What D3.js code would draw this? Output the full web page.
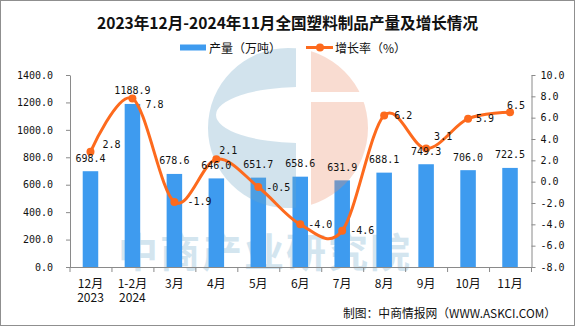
<!DOCTYPE html>
<html>
<head>
<meta charset="utf-8">
<script src="https://cdn.jsdelivr.net/npm/d3@7"></script>
<style>
  html, body { margin: 0; padding: 0; background: #fff; }
  svg { display: block; }
</style>
</head>
<body>
<svg id="chart" width="575" height="326"></svg>
<script>
// Monthly output of plastic products (10k tonnes) and year-on-year growth (%)
const categories = ["12月", "1-2月", "3月", "4月", "5月", "6月", "7月", "8月", "9月", "10月", "11月"];
const yearLabels = ["2023", "2024", "", "", "", "", "", "", "", "", ""];
const output = [698.4, 1188.9, 678.6, 646.0, 651.7, 658.6, 631.9, 688.1, 749.3, 706.0, 722.5];
const growth = [2.8, 7.8, -1.9, 2.1, -0.5, -4.0, -4.6, 6.2, 3.1, 5.9, 6.5];
const outputTicks = [0, 200, 400, 600, 800, 1000, 1200, 1400];
const growthTicks = [-8, -6, -4, -2, 0, 2, 4, 6, 8, 10];

const titleText = "2023年12月-2024年11月全国塑料制品产量及增长情况";
const seriesNames = ["产量（万吨）", "增长率（%）"];
const sourceText = "制图：中商情报网（WWW.ASKCI.COM）";
const watermarkText = "中商产业研究院";

// Nudges for growth labels that sit away from the default right-of-point spot
const growthLabelNudge = {
  "12月": [12, -7], "1-2月": [13, 6], "3月": [13, 0], "4月": [3, -9],
  "8月": [10, 0], "9月": [8, -12], "11月": [-3, -7]
};

const W = 575, H = 326;
const plot = { left: 70, right: 531.5, top: 75, bottom: 267 };
const NUM_FONT = "'DejaVu Sans Mono', 'Liberation Mono', monospace";
const CJK_FONT = "'Noto Sans CJK SC', 'Noto Sans', sans-serif";
const BAR_COLOR = "#3e9bef";
const LINE_COLOR = "#fd6a1d";
const AXIS_COLOR = "#8a8a8a";

const svg = d3.select("#chart");

// frame
svg.append("rect")
  .attr("x", 0.5).attr("y", 0.5).attr("width", W - 1).attr("height", H - 1)
  .attr("fill", "#fff").attr("stroke", "#8f8f8f");

const x = d3.scaleBand().domain(categories).range([plot.left - 0.5, plot.right - 0.5]).padding(0);
const yL = d3.scaleLinear().domain([0, 1400]).range([plot.bottom, plot.top]);
const yR = d3.scaleLinear().domain([-8, 10]).range([plot.bottom, plot.top]);
const cx = d => x(d) + x.bandwidth() / 2;

// background brand text
svg.append("text")
  .attr("x", 118).attr("y", 267)
  .attr("font-family", CJK_FONT).attr("font-weight", 700)
  .attr("font-size", 40).attr("letter-spacing", 2)
  .attr("fill", "#d3e5ef")
  .text(watermarkText);

// bars
const barW = x.bandwidth() * 0.37;
svg.append("g").selectAll("rect")
  .data(categories)
  .join("rect")
  .attr("x", (d) => cx(d) - barW / 2)
  .attr("y", (d, i) => yL(output[i]))
  .attr("width", barW)
  .attr("height", (d, i) => yL(0) - yL(output[i]))
  .attr("fill", BAR_COLOR);

// translucent logo mark
const defs = svg.append("defs");
defs.append("clipPath").attr("id", "clipLeft")
  .append("rect").attr("x", 0).attr("y", 0).attr("width", 296).attr("height", H);
defs.append("clipPath").attr("id", "clipRight")
  .append("path").attr("d", `M311,0H${W}V92H311Z M311,102H${W}V${H}H311Z`);
const logo = svg.append("g").attr("opacity", 0.3);
const lcx = 288, lcy = 128, lr = 80;
const circlePath = `M${lcx - lr},${lcy}a${lr},${lr} 0 1,0 ${2 * lr},0a${lr},${lr} 0 1,0 ${-2 * lr},0Z`;
const irx = 84, iry = 28, icx = 300, icy = 115;
const innerPath = `M${icx - irx},${icy}a${irx},${iry} 0 1,0 ${2 * irx},0a${irx},${iry} 0 1,0 ${-2 * irx},0Z`;
logo.append("path")
  .attr("d", circlePath + " " + innerPath)
  .attr("fill-rule", "evenodd")
  .attr("clip-path", "url(#clipLeft)")
  .attr("fill", "#6ca5c6");
logo.append("path")
  .attr("d", circlePath)
  .attr("clip-path", "url(#clipRight)")
  .attr("fill", "#ee8e69");

// axes
function styleAxis(g) {
  g.selectAll("path, line").attr("stroke", AXIS_COLOR);
  g.selectAll("text").attr("font-family", NUM_FONT).attr("font-size", 10).attr("fill", "#111");
}
svg.append("g")
  .attr("transform", `translate(${plot.left},0)`)
  .call(d3.axisLeft(yL).tickValues(outputTicks).tickFormat(d3.format(".1f")).tickSize(4).tickSizeOuter(0).tickPadding(13))
  .call(styleAxis);
svg.append("g")
  .attr("transform", `translate(${plot.right},0)`)
  .call(d3.axisRight(yR).tickValues(growthTicks).tickFormat(d3.format(".1f")).tickSize(4).tickSizeOuter(0).tickPadding(5))
  .call(styleAxis)
  .selectAll("text").text(d => d3.format(".1f")(d).replace("−", "-"));
svg.selectAll("g text").each(function () {
  const t = d3.select(this);
  t.text(t.text().replace("−", "-"));
});

// category axis with ticks on band boundaries
const edge = d3.scaleLinear().domain([0, categories.length]).range([plot.left - 0.5, plot.right - 0.5]);
svg.append("g")
  .attr("transform", `translate(0,${plot.bottom})`)
  .call(d3.axisBottom(edge).tickValues(d3.range(0, categories.length + 1)).tickFormat("").tickSize(5).tickSizeOuter(0))
  .call(g => g.selectAll("path, line").attr("stroke", AXIS_COLOR));

const xl = svg.append("g").attr("font-family", CJK_FONT).attr("font-size", 12).attr("fill", "#111")
  .attr("text-anchor", "middle");
xl.selectAll("text.m").data(categories).join("text").attr("class", "m")
  .attr("x", d => cx(d)).attr("y", 282).attr("dominant-baseline", "central").text(d => d);
xl.selectAll("text.yr").data(categories).join("text").attr("class", "yr")
  .attr("x", d => cx(d)).attr("y", 296).attr("dominant-baseline", "central")
  .text((d, i) => yearLabels[i]);

// growth line
const line = d3.line()
  .x(d => cx(d))
  .y((d, i) => yR(growth[i]))
  .curve(d3.curveCardinal.tension(0));
svg.append("path")
  .datum(categories)
  .attr("d", line)
  .attr("fill", "none")
  .attr("stroke", LINE_COLOR)
  .attr("stroke-width", 3);
svg.append("g").selectAll("circle").data(categories).join("circle")
  .attr("cx", d => cx(d)).attr("cy", (d, i) => yR(growth[i])).attr("r", 4)
  .attr("fill", LINE_COLOR);

// value labels
svg.append("g").attr("font-family", NUM_FONT).attr("font-size", 10).attr("fill", "#111")
  .selectAll("text").data(categories).join("text")
  .attr("x", d => cx(d)).attr("y", (d, i) => yL(output[i]) - 13)
  .attr("text-anchor", "middle").attr("dominant-baseline", "central")
  .text((d, i) => d3.format(".1f")(output[i]));

svg.append("g").attr("font-family", NUM_FONT).attr("font-size", 10).attr("fill", "#111")
  .selectAll("text").data(categories).join("text")
  .attr("x", d => cx(d) + (growthLabelNudge[d] ? growthLabelNudge[d][0] : 8))
  .attr("y", (d, i) => yR(growth[i]) + (growthLabelNudge[d] ? growthLabelNudge[d][1] : 0))
  .attr("dominant-baseline", "central")
  .text((d, i) => d3.format(".1f")(growth[i]).replace("−", "-"));

// legend
const legend = svg.append("g").attr("font-family", CJK_FONT).attr("font-size", 12).attr("fill", "#111");
legend.append("rect").attr("x", 180).attr("y", 44.5).attr("width", 26).attr("height", 6).attr("fill", BAR_COLOR);
legend.append("text").attr("x", 209).attr("y", 47).attr("dominant-baseline", "central").text(seriesNames[0]);
legend.append("line").attr("x1", 306).attr("x2", 333).attr("y1", 47.5).attr("y2", 47.5)
  .attr("stroke", LINE_COLOR).attr("stroke-width", 3);
legend.append("circle").attr("cx", 320).attr("cy", 47.5).attr("r", 4).attr("fill", LINE_COLOR);
legend.append("text").attr("x", 335).attr("y", 47).attr("dominant-baseline", "central").text(seriesNames[1]);

// title
svg.append("text")
  .attr("x", 97).attr("y", 22)
  .attr("dominant-baseline", "central")
  .attr("font-family", CJK_FONT).attr("font-weight", 700).attr("font-size", 16)
  .attr("fill", "#111")
  .attr("textLength", 381).attr("lengthAdjust", "spacingAndGlyphs")
  .text(titleText);

// source note
svg.append("text")
  .attr("x", 343).attr("y", 312)
  .attr("dominant-baseline", "central")
  .attr("font-family", CJK_FONT).attr("font-size", 12).attr("fill", "#111")
  .attr("textLength", 213).attr("lengthAdjust", "spacingAndGlyphs")
  .text(sourceText);
</script>
</body>
</html>
